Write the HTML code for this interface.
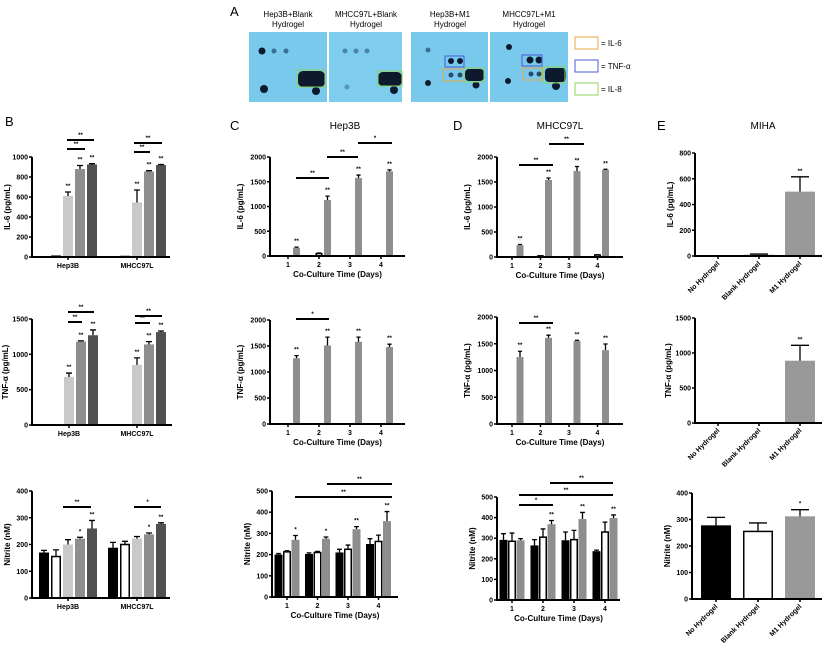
<!DOCTYPE html>
<html><head><meta charset="utf-8"><style>
html,body{margin:0;padding:0;background:#fff;}
svg{display:block;font-family:"Liberation Sans",Arial,sans-serif;}
.t{font-size:7px;font-weight:bold;}
.yl{font-size:8px;font-weight:bold;}
.xl{font-size:8px;font-weight:bold;}
.pl{font-size:13px;}
.ti{font-size:10px;}
.st{font-size:6px;font-weight:bold;}
</style></head><body>
<svg id="fig" width="824" height="654" viewBox="0 0 824 654" xmlns="http://www.w3.org/2000/svg">
<g id="panelA">
<text class="pl" x="230" y="16">A</text>
<g font-size="8" text-anchor="middle">
<text x="288" y="17">Hep3B+Blank</text><text x="288" y="27">Hydrogel</text>
<text x="366" y="17">MHCC97L+Blank</text><text x="366" y="27">Hydrogel</text>
<text x="450" y="17">Hep3B+M1</text><text x="450" y="27">Hydrogel</text>
<text x="529" y="17">MHCC97L+M1</text><text x="529" y="27">Hydrogel</text>
</g>
<rect x="249" y="32" width="78" height="70" fill="#78c9ec"/>
<rect x="329" y="32" width="73" height="70" fill="#7fcdee"/>
<rect x="411" y="32" width="77" height="70" fill="#78c9ec"/>
<rect x="490" y="32" width="78" height="70" fill="#78c9ec"/>
<g fill="#0d1a2e">
<circle cx="262" cy="51" r="3.5"/><circle cx="274" cy="51" r="2.5" fill="#3c6f94"/><circle cx="286" cy="51" r="2.5" fill="#3c6f94"/>
<circle cx="264" cy="89" r="4"/><rect x="298" y="71" width="27" height="16" rx="5"/><circle cx="316" cy="91" r="4"/>
<circle cx="345" cy="51" r="2.5" fill="#4a84ad"/><circle cx="356" cy="51" r="2.5" fill="#4a84ad"/><circle cx="367" cy="51" r="2.5" fill="#4a84ad"/>
<circle cx="347" cy="87" r="2.5" fill="#5a94bd"/><rect x="378" y="72" width="24" height="14" rx="5"/><circle cx="394" cy="90" r="4"/>
<circle cx="428" cy="50" r="2.5" fill="#3c6f94"/><circle cx="428" cy="83" r="3"/>
<circle cx="451" cy="61" r="3"/><circle cx="460" cy="61" r="3"/><circle cx="451" cy="75" r="2.5" fill="#2a4a6a"/><circle cx="460" cy="75" r="2.5" fill="#2a4a6a"/>
<rect x="465" y="69" width="19" height="12" rx="4"/><circle cx="476" cy="85" r="3.5"/>
<circle cx="509" cy="47" r="3"/><circle cx="508" cy="81" r="3"/>
<circle cx="530" cy="60" r="3.5"/><circle cx="539" cy="60" r="3.5"/><circle cx="531" cy="74" r="2.5" fill="#2a4a6a"/><circle cx="539" cy="74" r="2.5" fill="#2a4a6a"/>
<rect x="545" y="68" width="21" height="14" rx="4"/><circle cx="556" cy="86" r="4"/>
</g>
<g fill="none" stroke-width="1">
<rect x="297" y="70" width="28" height="17" stroke="#8fd35a"/>
<rect x="378" y="71" width="24" height="15" stroke="#8fd35a"/>
<rect x="445" y="56" width="19" height="11" stroke="#4a5bd8"/>
<rect x="443" y="69" width="21" height="12" stroke="#e8a84a"/>
<rect x="464" y="68" width="20" height="14" stroke="#8fd35a"/>
<rect x="522" y="55" width="20" height="11" stroke="#4a5bd8"/>
<rect x="523" y="68" width="19" height="12" stroke="#e8a84a"/>
<rect x="543" y="67" width="22" height="16" stroke="#8fd35a"/>
</g>
<g font-size="8">
<rect x="575" y="37" width="23" height="12" fill="none" stroke="#e8a84a"/><text x="601" y="46">= IL-6</text>
<rect x="575" y="60" width="23" height="12" fill="none" stroke="#4a5bd8"/><text x="601" y="69">= TNF-α</text>
<rect x="575" y="83" width="23" height="12" fill="none" stroke="#8fd35a"/><text x="601" y="92">= IL-8</text>
</g>
</g>
<text class="pl" x="5" y="126">B</text>
<text class="pl" x="230" y="130">C</text>
<text class="ti" x="345" y="129" text-anchor="middle">Hep3B</text>
<text class="pl" x="453" y="130">D</text>
<text class="ti" x="560" y="129" text-anchor="middle">MHCC97L</text>
<text class="pl" x="657" y="130">E</text>
<text class="ti" x="763" y="129" text-anchor="middle">MIHA</text>
</svg>
<script>
// ---- Panel B data ----
const bCats = ["Hep3B","MHCC97L"];
const bIL6 = [[5,3],[8,5],[610,545],[880,855],[925,920]];
const bIL6Err = [[0,0],[0,0],[40,125],[35,8],[8,5]];
const bTNF = [[0,0],[0,0],[680,850],[1180,1140],[1270,1315]];
const bTNFErr = [[0,0],[0,0],[55,100],[10,40],[75,15]];
const bNit = [[170,188],[155,200],[200,222],[222,238],[260,277]];
const bNitErr = [[8,20],[25,12],[18,8],[5,5],[30,4]];
// ---- Panel C data ----
const days = ["1","2","3","4"];
const cIL6 = [[5,5,5,5],[5,50,5,5],[165,1130,1575,1710]];
const cIL6Err = [[0,0,0,0],[3,10,0,3],[15,80,60,30]];
const cTNF = [[0,0,0,0],[0,0,0,0],[1265,1510,1580,1480]];
const cTNFErr = [[0,0,0,0],[0,0,0,0],[50,160,90,55]];
const cNit = [[200,203,210,250],[213,210,225,262],[270,275,320,358]];
const cNitErr = [[5,5,15,25],[5,5,20,30],[20,8,12,45]];
// ---- Panel D data ----
const dIL6 = [[5,5,5,10],[5,20,5,40],[235,1540,1720,1745]];
const dIL6Err = [[0,0,0,0],[0,5,0,5],[15,40,90,10]];
const dTNF = [[0,0,0,0],[0,0,0,0],[1250,1610,1555,1380]];
const dTNFErr = [[0,0,0,0],[0,0,0,0],[110,50,10,115]];
const dNit = [[292,265,290,237],[285,305,293,330],[290,368,393,398]];
const dNitErr = [[30,28,40,5],[40,40,45,48],[8,18,32,15]];
// ---- Panel E data ----
const eCats = ["No Hydrogel","Blank Hydrogel","M1 Hydrogel"];
const eIL6 = [2,10,500];
const eIL6Err = [0,5,115];
const eTNF = [0,0,890];
const eTNFErr = [0,0,220];
const eNit = [278,255,312];
const eNitErr = [30,32,25];
// tick labels
const ticksIL6B = [0,200,400,600,800,1000];
const ticksTNFB = [0,500,1000,1500];
const ticksNit400 = [0,100,200,300,400];
const ticksNit500 = [0,100,200,300,400,500];
const ticks2000 = [0,500,1000,1500,2000];
const ticksIL6E = [0,200,400,600,800];

const NS="http://www.w3.org/2000/svg";
const svg=document.getElementById('fig');
function el(tag,attrs,parent){const e=document.createElementNS(NS,tag);for(const k in attrs)e.setAttribute(k,attrs[k]);(parent||svg).appendChild(e);return e;}

function chart(c){
  const g=el('g',{});
  
  
  const ymax=c.ticks[c.ticks.length-1];
  const Y=v=>c.y0-(v/ymax)*(c.y0-c.yTop);
  const nS=c.series.length, nG=c.series[0].length;
  const X=(gi,si)=>c.x0+gi*c.step+(si-(nS-1)/2)*c.sp;
  // bars
  for(let s=0;s<nS;s++){for(let i=0;i<nG;i++){
    const v=c.series[s][i], e=c.err[s][i];
    const cx=X(i,s), fill=c.colors[s];
    const top=Y(v);
    const r=el('rect',{x:cx-c.w/2+(fill==='#fff'?0.75:0),y:top,width:c.w-(fill==='#fff'?1.5:0),height:Math.max(0,c.y0-top),fill:fill,stroke:fill==='#fff'?'#000':'none','stroke-width':1.5},g);
    
    
    if(e>0){const ey=Y(v+e);
      const eb=el('path',{d:`M${cx},${top}V${ey}M${cx-c.w*0.3},${ey}H${cx+c.w*0.3}`,stroke:'#000','stroke-width':1.3,fill:'none'},g);
      
      }
    if(c.stars&&c.stars[s]&&c.stars[s][i]){
      const st=el('text',{x:cx,y:Y(v+e)-4,'text-anchor':'middle',class:'st'},g);
      st.textContent=c.stars[s][i];
      
      }
  }}
  // axes
  const ax=el('path',{d:`M${c.ax},${c.yTop}V${c.y0}H${c.xEnd}`,stroke:'#000','stroke-width':2,fill:'none'},g);
  
  
  c.ticks.forEach(t=>{const y=Y(t);
    el('path',{d:`M${c.ax-3},${y}H${c.ax}`,stroke:'#000','stroke-width':1.5},g);
    const tx=el('text',{x:c.ax-4,y:y+2.5,'text-anchor':'end',class:'t'},g);tx.textContent=t;
    
    });
  c.cats.forEach((cat,i)=>{const x=c.x0+i*c.step;
    el('path',{d:`M${x},${c.y0}V${c.y0+3}`,stroke:'#000','stroke-width':1.5},g);
    if(c.rot){const tx=el('text',{x:x+2,y:c.y0+8,'text-anchor':'end',class:'t',transform:`rotate(-45 ${x+2} ${c.y0+8})`},g);tx.textContent=cat;
      
      }
    else{const tx=el('text',{x:x,y:c.y0+11,'text-anchor':'middle',class:'t'},g);tx.textContent=cat;
      
      }
  });
  const yc=(c.y0+c.yTop)/2, yx=c.ax-c.ylOff;
  const yl=el('text',{x:yx,y:yc,'text-anchor':'middle',class:'yl',transform:`rotate(-90 ${yx} ${yc})`},g);yl.textContent=c.ylabel;
  
  
  if(c.xlabel){const xl=el('text',{x:(c.ax+c.xEnd)/2,y:c.y0+21,'text-anchor':'middle',class:'xl'},g);xl.textContent=c.xlabel;
    
    }
  (c.sig||[]).forEach(s=>{
    const ln=el('path',{d:`M${s[0]},${s[2]}H${s[1]}`,stroke:'#000','stroke-width':2},g);
    
    
    const st=el('text',{x:(s[0]+s[1])/2,y:s[2]-3,'text-anchor':'middle',class:'st'},g);st.textContent=s[3];
    
    });
}
const bCol=['#000','#fff','#c9c9c9','#8e8e8e','#505050'];
const cCol=['#000','#fff','#8e8e8e'];
const starB=[null,null,["**","**"],["**","**"],["**","**"]];
const starBN=[null,null,null,["*","*"],["**","**"]];
chart({name:'chart-b-il6',key:'b-il6',cats:bCats,series:bIL6,err:bIL6Err,colors:bCol,ticks:ticksIL6B,ax:32,y0:257,yTop:157,xEnd:170,x0:68,step:69,sp:12,w:10,ylabel:'IL-6 (pg/mL)',ylOff:22,stars:starB,
 sig:[[67,85,149,'**'],[67,94,140,'**'],[134,150,152,'**'],[134,162,143,'**']]});
chart({name:'chart-b-tnf',key:'b-tnf',cats:bCats,series:bTNF,err:bTNFErr,colors:bCol,ticks:ticksTNFB,ax:32,y0:425,yTop:319,xEnd:172,x0:69,step:68,sp:12,w:10,ylabel:'TNF-α (pg/mL)',ylOff:24,stars:starB,
 sig:[[68,82,322,'**'],[68,94,312,'**'],[135,150,323,'**'],[135,162,316,'**']]});
chart({name:'chart-b-nitrite',key:'b-nit',cats:bCats,series:bNit,err:bNitErr,colors:bCol,ticks:ticksNit400,ax:32,y0:598,yTop:491,xEnd:170,x0:68,step:69,sp:12,w:10,ylabel:'Nitrite (nM)',ylOff:22,stars:starBN,
 sig:[[63,91,507,'**'],[134,161,507,'*']]});
const starC=[null,null,["**","**","**","**"]];
chart({name:'chart-c-il6',key:'c-il6',cats:days,series:cIL6,err:cIL6Err,colors:cCol,ticks:ticks2000,ax:270,y0:256,yTop:157,xEnd:405,x0:288,step:31,sp:8.5,w:7,ylabel:'IL-6 (pg/mL)',ylOff:27,xlabel:'Co-Culture Time (Days)',stars:starC,
 sig:[[296,329,178,'**'],[327,358,157,'**'],[358,392,143,'*']]});
chart({name:'chart-c-tnf',key:'c-tnf',cats:days,series:cTNF,err:cTNFErr,colors:cCol,ticks:ticks2000,ax:270,y0:424,yTop:320,xEnd:405,x0:288,step:31,sp:8.5,w:7,ylabel:'TNF-α (pg/mL)',ylOff:27,xlabel:'Co-Culture Time (Days)',stars:starC,
 sig:[[296,329,319,'*']]});
chart({name:'chart-c-nitrite',key:'c-nit',cats:days,series:cNit,err:cNitErr,colors:cCol,ticks:ticksNit500,ax:272,y0:597,yTop:491,xEnd:398,x0:287,step:30.5,sp:8.5,w:8,ylabel:'Nitrite (nM)',ylOff:22,xlabel:'Co-Culture Time (Days)',stars:[null,null,["*","*","**","**"]],
 sig:[[295,392,497,'**'],[327,392,484,'**']]});
chart({name:'chart-d-il6',key:'d-il6',cats:days,series:dIL6,err:dIL6Err,colors:cCol,ticks:ticks2000,ax:497,y0:257,yTop:157,xEnd:623,x0:512,step:28.5,sp:8,w:7,ylabel:'IL-6 (pg/mL)',ylOff:27,xlabel:'Co-Culture Time (Days)',stars:starC,
 sig:[[519,553,165,'**'],[549,584,144,'**']]});
chart({name:'chart-d-tnf',key:'d-tnf',cats:days,series:dTNF,err:dTNFErr,colors:cCol,ticks:ticks2000,ax:497,y0:424,yTop:317,xEnd:623,x0:512,step:28.5,sp:8,w:7,ylabel:'TNF-α (pg/mL)',ylOff:27,xlabel:'Co-Culture Time (Days)',stars:starC,
 sig:[[519,553,323,'**']]});
chart({name:'chart-d-nitrite',key:'d-nit',cats:days,series:dNit,err:dNitErr,colors:cCol,ticks:ticksNit500,ax:497,y0:600,yTop:497,xEnd:620,x0:512,step:31,sp:8.5,w:8,ylabel:'Nitrite (nM)',ylOff:22,xlabel:'Co-Culture Time (Days)',stars:[null,null,["","**","**","**"]],
 sig:[[519,553,505,'*'],[519,613,495,'**'],[550,613,483,'**']]});
chart({name:'chart-e-il6',key:'e-il6',cats:eCats,series:[eIL6],err:[eIL6Err],colors:['#999'],ticks:ticksIL6E,ax:695,y0:256,yTop:153,xEnd:822,x0:718,step:41,sp:0,w:30,ylabel:'IL-6 (pg/mL)',ylOff:22,rot:true,stars:[["","","**"]]});
chart({name:'chart-e-tnf',key:'e-tnf',cats:eCats,series:[eTNF],err:[eTNFErr],colors:['#999'],ticks:ticksTNFB,ax:695,y0:423,yTop:318,xEnd:822,x0:718,step:41,sp:0,w:30,ylabel:'TNF-α (pg/mL)',ylOff:24,rot:true,stars:[["","","**"]]});
// nitrite E: each bar its own colour -> three series with one group each, offset by sp
chart({name:'chart-e-nitrite',key:'e-nit',cats:[""],series:[[eNit[0]],[eNit[1]],[eNit[2]]],err:[[eNitErr[0]],[eNitErr[1]],[eNitErr[2]]],colors:['#000','#fff','#999'],ticks:ticksNit400,ax:692,y0:599,yTop:493,xEnd:822,x0:758,step:0,sp:42,w:30,ylabel:'Nitrite (nM)',ylOff:22,stars:[[""],[""],["*"]]});
// rotated category labels for E nitrite
eCats.forEach((cat,i)=>{const x=716+i*42;
  el('path',{d:`M${x},599V602`,stroke:'#000','stroke-width':1.5});
  const tx=el('text',{x:x+2,y:607,'text-anchor':'end',class:'t',transform:`rotate(-45 ${x+2} 607)`});
  tx.textContent=cat;
  
  });
</script>
</body></html>
